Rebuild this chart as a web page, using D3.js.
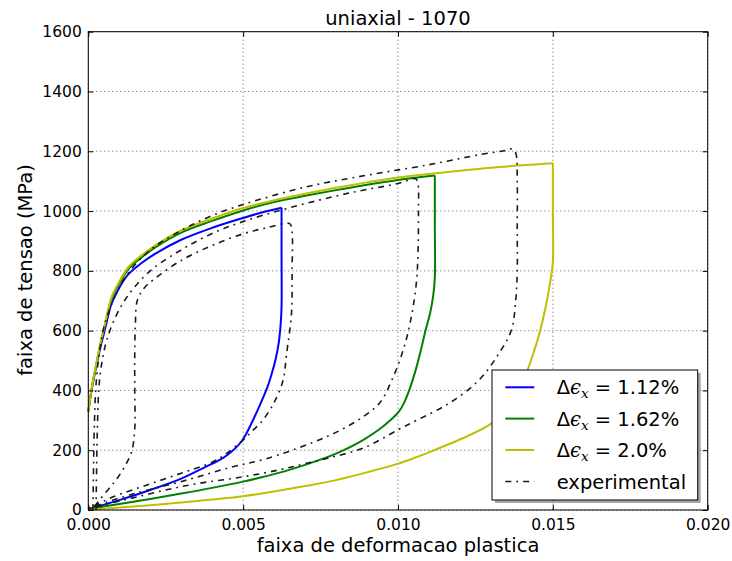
<!DOCTYPE html>
<html>
<head>
<meta charset="utf-8">
<script src="https://cdn.jsdelivr.net/npm/d3@7"></script>
<style>
  html, body { margin: 0; padding: 0; background: #fff; }
  svg { display: block; }
  text { font-family: "DejaVu Sans", sans-serif; fill: #000; }
</style>
</head>
<body>
<script>
// Axis ticks
const xTicks = [0, 0.005, 0.010, 0.015, 0.020];
const yTicks = [0, 200, 400, 600, 800, 1000, 1200, 1400, 1600];

// Model loops: [plastic strain range, stress range (MPa)]
// upper (loading) branch and unloading branch for each strain amplitude
const blueUpper = [[0,329],[0.0001,398],[0.00022,462],[0.0004,548],[0.00054,605],[0.00075,690],[0.00097,738],[0.00129,788],[0.00172,826],[0.00214,856],[0.003,904],[0.004,944],[0.005,977],[0.0056,995],[0.00624,1011]];
const blueUnload = [[0.00624,1011],[0.00624,850],[0.00624,679],[0.00621,620],[0.00615,560],[0.00605,505],[0.00592,455],[0.00578,410],[0.00562,370],[0.00545,330],[0.00527,290],[0.0051,255],[0.00495,230],[0.00475,207],[0.0045,185],[0.0042,165],[0.0038,145],[0.003,105],[0.002,67],[0.001,33],[0,3]];

const greenUpper = [[0,329],[0.0001,400],[0.00022,468],[0.0004,558],[0.00054,620],[0.00075,706],[0.00097,752],[0.00129,805],[0.00172,845],[0.00214,877],[0.003,928],[0.004,967],[0.005,1002],[0.006,1030],[0.007,1051],[0.008,1070],[0.009,1088],[0.010,1104],[0.01119,1119]];
const greenUnload = [[0.01119,1119],[0.01119,950],[0.01119,779],[0.01114,720],[0.01104,660],[0.01089,601],[0.01074,535],[0.01057,468],[0.01036,400],[0.01018,355],[0.01002,328],[0.00975,300],[0.0094,270],[0.00887,234],[0.0083,203],[0.0078,180],[0.007,151],[0.00618,125],[0.005,95],[0.004,74],[0.003,55],[0.002,37],[0.001,20],[0,3]];

const yellowUpper = [[0,329],[0.0001,402],[0.00022,470],[0.0004,562],[0.00054,624],[0.00075,712],[0.00097,758],[0.00129,812],[0.00172,852],[0.00214,884],[0.003,935],[0.004,975],[0.005,1010],[0.006,1036],[0.007,1058],[0.008,1078],[0.009,1096],[0.010,1112],[0.011,1124],[0.012,1135],[0.013,1145],[0.014,1153],[0.015,1160]];
const yellowUnload = [[0.015,1160],[0.015,990],[0.015,830],[0.01491,760],[0.01477,680],[0.01459,600],[0.01439,530],[0.01419,470],[0.01394,410],[0.01367,360],[0.01336,320],[0.01302,290],[0.01255,262],[0.01209,240],[0.0115,214],[0.011,193],[0.0105,173],[0.010,155],[0.009,126],[0.008,100],[0.007,80],[0.006,62],[0.005,46],[0.004,35],[0.003,25],[0.002,16],[0.001,8],[0,1]];

// Experimental loops (dash-dot)
const expLoopA = [[0.0002,12],[0.00032,28],[0.00054,56],[0.0008,88],[0.00097,111],[0.0012,150],[0.0014,195],[0.0015,270],[0.0015,400],[0.0015,520],[0.00152,620],[0.00158,700],[0.0018,742],[0.0021,770],[0.003,835],[0.004,885],[0.005,924],[0.0058,945],[0.0065,958],[0.00657,940],[0.00658,800],[0.00656,657],[0.0064,520],[0.00629,434],[0.00605,370],[0.00586,334],[0.00555,290],[0.0053,265],[0.005,234],[0.00446,189],[0.004,160],[0.003,123],[0.0019,84],[0.0008,44],[0.0002,15],[0,8]];
const expLoopB = [[0.00025,0],[0.00027,150],[0.0003,300],[0.00035,420],[0.00045,500],[0.0006,570],[0.0009,650],[0.0013,720],[0.002,800],[0.003,870],[0.004,925],[0.005,965],[0.0065,1011],[0.0085,1062],[0.01,1092],[0.01057,1108],[0.01064,1095],[0.01066,1000],[0.01065,880],[0.0106,768],[0.01045,657],[0.0102,546],[0.0098,434],[0.0094,357],[0.00887,312],[0.0082,270],[0.0073,228],[0.0057,170],[0.0046,143],[0.00317,100],[0.0015,55],[0.0007,30],[0,5]];
const expLoopC = [[0.00015,0],[0.00017,150],[0.0002,300],[0.00025,420],[0.00035,520],[0.0005,610],[0.0008,700],[0.0012,780],[0.002,870],[0.003,935],[0.004,985],[0.005,1022],[0.007,1080],[0.009,1120],[0.011,1155],[0.0127,1190],[0.0135,1203],[0.01369,1208],[0.0138,1195],[0.01385,1100],[0.01385,950],[0.01385,800],[0.0138,700],[0.01366,601],[0.01326,524],[0.01261,434],[0.01165,357],[0.0106,300],[0.01003,270],[0.0089,208],[0.0078,175],[0.007,155],[0.0062,135],[0.005,111],[0.0035,88],[0.0025,67],[0.0015,42],[0.0008,25],[0,3]];

// Legend entries
const legendLabels = ["1.12%", "1.62%", "2.0%", "experimental"];
const seriesColors = ["#0000ff", "#008000", "#bfbf00", "#1a1a1a"];

const W = 732, H = 561;
const plot = { left: 88.3, right: 707.7, top: 31.7, bottom: 510 };

const svg = d3.select("body").append("svg")
  .attr("width", W).attr("height", H);

const x = d3.scaleLinear().domain([0, 0.02]).range([plot.left, plot.right]);
const y = d3.scaleLinear().domain([0, 1600]).range([plot.bottom, plot.top]);

// Dotted grid
const grid = svg.append("g").attr("class", "grid")
  .attr("stroke", "#555").attr("stroke-width", 0.9).attr("stroke-dasharray", "1,3");
grid.selectAll("line.gx").data(xTicks).join("line")
  .attr("x1", d => x(d)).attr("x2", d => x(d))
  .attr("y1", plot.top).attr("y2", plot.bottom);
grid.selectAll("line.gy").data(yTicks).join("line")
  .attr("x1", plot.left).attr("x2", plot.right)
  .attr("y1", d => y(d)).attr("y2", d => y(d));

// Curves
const line = d3.line()
  .x(d => x(d[0])).y(d => y(d[1]))
  .curve(d3.curveCatmullRom.alpha(0.5));

const models = [
  [blueUpper, blueUnload, seriesColors[0]],
  [greenUpper, greenUnload, seriesColors[1]],
  [yellowUpper, yellowUnload, seriesColors[2]]
];
const gLines = svg.append("g").attr("fill", "none");
models.forEach(([up, down, c]) => {
  gLines.append("path").attr("d", line(up))
    .attr("stroke", c).attr("stroke-width", 2).attr("stroke-linejoin", "round");
  gLines.append("path").attr("d", line(down))
    .attr("stroke", c).attr("stroke-width", 2).attr("stroke-linejoin", "round");
});

[expLoopA, expLoopB, expLoopC].forEach(loop => {
  gLines.append("path").attr("d", line(loop))
    .attr("stroke", seriesColors[3]).attr("stroke-width", 1.6)
    .attr("stroke-dasharray", "6,5,1.8,5");
});

// Frame
svg.append("rect")
  .attr("x", plot.left).attr("y", plot.top)
  .attr("width", plot.right - plot.left).attr("height", plot.bottom - plot.top)
  .attr("fill", "none").attr("stroke", "#000").attr("stroke-width", 1);

// Axes with inward ticks
const fmtX = d3.format(".3f");
const axB = svg.append("g").attr("transform", `translate(0,${plot.bottom})`)
  .call(d3.axisBottom(x).tickValues(xTicks).tickFormat(fmtX).tickSizeInner(-5).tickSizeOuter(0).tickPadding(9));
const axT = svg.append("g").attr("transform", `translate(0,${plot.top})`)
  .call(d3.axisTop(x).tickValues(xTicks).tickFormat("").tickSizeInner(-5).tickSizeOuter(0));
const axL = svg.append("g").attr("transform", `translate(${plot.left},0)`)
  .call(d3.axisLeft(y).tickValues(yTicks).tickFormat(d3.format("d")).tickSizeInner(-5).tickSizeOuter(0).tickPadding(6.5));
const axR = svg.append("g").attr("transform", `translate(${plot.right},0)`)
  .call(d3.axisRight(y).tickValues(yTicks).tickFormat("").tickSizeInner(-5).tickSizeOuter(0));
[axB, axT, axL, axR].forEach(a => {
  a.select(".domain").remove();
  a.selectAll(".tick line").attr("stroke", "#000");
  a.selectAll("text").attr("font-family", "DejaVu Sans").attr("font-size", 15.5).attr("fill", "#000");
});

// Title and axis labels
svg.append("text").attr("x", 398).attr("y", 25).attr("text-anchor", "middle")
  .attr("font-size", 19.5).text("uniaxial - 1070");
svg.append("text").attr("x", 398).attr("y", 552).attr("text-anchor", "middle")
  .attr("font-size", 19.5).text("faixa de deformacao plastica");
svg.append("text").attr("transform", "translate(31.5,270) rotate(-90)")
  .attr("text-anchor", "middle").attr("font-size", 19.5).text("faixa de tensao (MPa)");

// Legend
const lg = { x: 492, y: 370, w: 205.7, h: 130 };
svg.append("rect").attr("x", lg.x + 3).attr("y", lg.y + 3).attr("width", lg.w).attr("height", lg.h)
  .attr("fill", "#4d4d4d").attr("opacity", 0.5);
svg.append("rect").attr("x", lg.x).attr("y", lg.y).attr("width", lg.w).attr("height", lg.h)
  .attr("fill", "#fff").attr("stroke", "#000").attr("stroke-width", 1);

const rowY = [387.3, 418.6, 450, 481.5];
legendLabels.forEach((lab, i) => {
  const ry = rowY[i];
  const ln = svg.append("line").attr("x1", 505.3).attr("x2", 534.3).attr("y1", ry).attr("y2", ry)
    .attr("stroke", seriesColors[i]);
  if (i === 3) ln.attr("stroke-width", 1.6).attr("stroke-dasharray", "6,5,1.8,5");
  else ln.attr("stroke-width", 2);

  const t = svg.append("text").attr("x", 556.7).attr("y", ry + 7.1).attr("font-size", 19.5);
  if (i === 3) {
    t.text(lab);
  } else {
    t.append("tspan").text("Δ");
    t.append("tspan").attr("font-family", "DejaVu Serif").attr("font-style", "italic").text("ϵ");
    t.append("tspan").attr("font-family", "DejaVu Serif").attr("font-style", "italic")
      .attr("font-size", 13.5).attr("dy", 4).text("x");
    t.append("tspan").attr("dy", -4).text("\u00a0= " + lab);
  }
});
</script>
</body>
</html>
